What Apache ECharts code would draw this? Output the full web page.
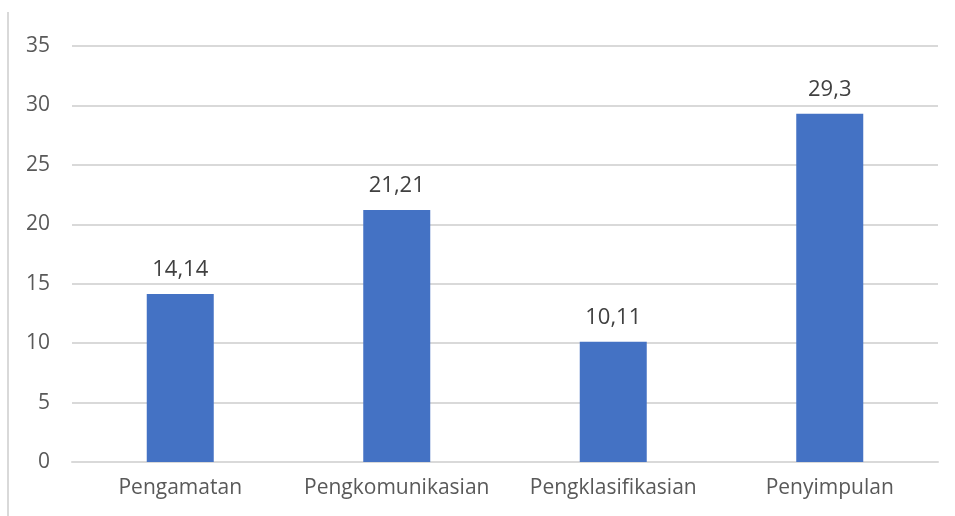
<!DOCTYPE html>
<html>
<head>
<meta charset="utf-8">
<script src="https://cdn.jsdelivr.net/npm/echarts@6/dist/echarts.min.js"></script>
<style>
  html, body { margin: 0; padding: 0; background: #fff; }
  #frame { position: absolute; left: 7px; top: 12px; width: 948px; height: 504px; border-left: 2px solid #d9d9d9; }
  #chart { position: absolute; left: 0; top: 0; width: 955px; height: 516px; }
</style>
</head>
<body>
<div id="frame"></div>
<div id="chart"></div>
<script>
// data
const categories = ['Pengamatan', 'Pengkomunikasian', 'Pengklasifikasian', 'Penyimpulan']
const values = [14.14, 21.21, 10.11, 29.3]
const yMin = 0
const yMax = 35
const yStep = 5

const myChart = echarts.init(document.getElementById('chart'))
const fontFamily = '"Open Sans", "Noto Sans", sans-serif'
myChart.setOption({
  animation: false,
  grid: {
    left: 72,
    right: 17,
    top: 46,
    bottom: 54
  },
  xAxis: {
    type: 'category',
    data: categories,
    axisLine: { lineStyle: { color: '#d9d9d9', width: 2 } },
    axisTick: { show: false },
    axisLabel: {
      interval: 0, // show every category
      color: '#595959',
      fontSize: 21,
      fontFamily: fontFamily,
      margin: 16
    }
  },
  yAxis: {
    type: 'value',
    min: yMin,
    max: yMax,
    interval: yStep,
    axisLine: { show: false },
    axisTick: { show: false },
    splitLine: { lineStyle: { color: '#d9d9d9', width: 2 } },
    axisLabel: {
      color: '#595959',
      fontSize: 21,
      fontFamily: fontFamily,
      margin: 22
    }
  },
  series: [
    {
      type: 'bar',
      data: values,
      barWidth: 67,
      itemStyle: { color: '#4472C4' },
      label: {
        show: true,
        position: 'top',
        distance: 13,
        color: '#404040',
        fontSize: 22,
        fontFamily: fontFamily,
        formatter: (p) => String(p.value).replace('.', ',')
      }
    }
  ]
})
</script>
</body>
</html>
